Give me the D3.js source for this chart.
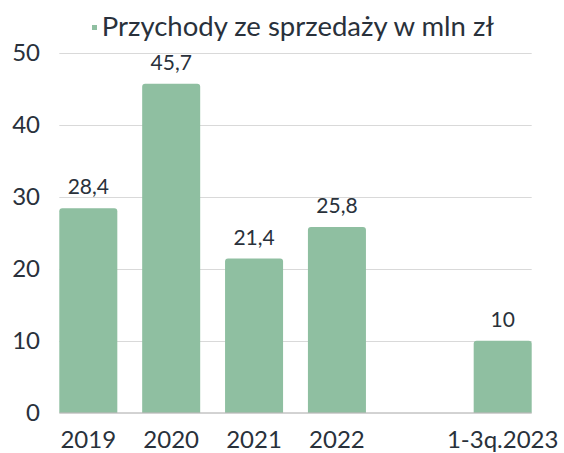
<!DOCTYPE html>
<html>
<head>
<meta charset="utf-8">
<script src="https://cdn.jsdelivr.net/npm/d3@7"></script>
<style>
  body { margin: 0; background: white; }
  svg { display: block; font-family: Lato, sans-serif; }
</style>
</head>
<body>
<div id="chart"></div>
<script>
// ----------------------------------------
// DATA
// ----------------------------------------
const categories = ["2019", "2020", "2021", "2022", "", "1-3q.2023"];
const values = [28.4, 45.7, 21.4, 25.8, null, 10];
const valueLabels = ["28,4", "45,7", "21,4", "25,8", "", "10"];
const yTicks = [0, 10, 20, 30, 40, 50];
const seriesName = "Przychody ze sprzedaży w mln zł";

// ----------------------------------------
// SETUP
// ----------------------------------------
const width = 564, height = 453;
const textColor = "#29313b";
const barColor = "#8fbfa1";

const svg = d3.select("#chart")
  .append("svg")
  .attr("width", width)
  .attr("height", height);

const x = d3.scaleBand()
  .domain(d3.range(categories.length))
  .range([59.3, 531.7])
  .paddingInner(0.3)
  .paddingOuter(0);

const y = d3.scaleLinear()
  .domain([0, 50])
  .range([412.7, 52.7]);

// gridlines
svg.append("g")
  .selectAll("line")
  .data(yTicks.filter(d => d > 0))
  .join("line")
  .attr("x1", 59.3)
  .attr("x2", 531.7)
  .attr("y1", d => Math.round(y(d)) + 0.5)
  .attr("y2", d => Math.round(y(d)) + 0.5)
  .attr("stroke", "#d9d9d9")
  .attr("stroke-width", 1);

// y tick labels
svg.append("g")
  .selectAll("text")
  .data(yTicks)
  .join("text")
  .attr("x", 40)
  .attr("y", d => y(d))
  .attr("dy", "0.35em")
  .attr("text-anchor", "end")
  .attr("fill", textColor)
  .style("font-size", "24px")
  .text(d => d);

// bars with rounded top corners
const r = 3;
const barData = values
  .map((v, i) => ({ i, v, label: valueLabels[i] }))
  .filter(d => d.v != null);

svg.append("g")
  .selectAll("path")
  .data(barData)
  .join("path")
  .attr("fill", barColor)
  .attr("d", d => {
    const x0 = x(d.i), x1 = x0 + x.bandwidth();
    const yt = y(d.v), yb = y(0);
    return `M${x0},${yb}V${yt + r}Q${x0},${yt} ${x0 + r},${yt}H${x1 - r}Q${x1},${yt} ${x1},${yt + r}V${yb}Z`;
  });

// zero axis line
svg.append("line")
  .attr("x1", 59.3)
  .attr("x2", 531.7)
  .attr("y1", 413)
  .attr("y2", 413)
  .attr("stroke", "#a6a6a6")
  .attr("stroke-width", 1);

// value labels
svg.append("g")
  .selectAll("text")
  .data(barData)
  .join("text")
  .attr("x", d => x(d.i) + x.bandwidth() / 2)
  .attr("y", d => y(d.v) - 14)
  .attr("text-anchor", "middle")
  .attr("fill", textColor)
  .style("font-size", "21px")
  .text(d => d.label);

// x labels
svg.append("g")
  .selectAll("text")
  .data(categories.map((c, i) => ({ c, i })).filter(d => d.c))
  .join("text")
  .attr("x", d => x(d.i) + x.bandwidth() / 2)
  .attr("y", 448)
  .attr("text-anchor", "middle")
  .attr("fill", textColor)
  .style("font-size", "24px")
  .text(d => d.c);

// legend / title
svg.append("rect")
  .attr("x", 92)
  .attr("y", 25)
  .attr("width", 5)
  .attr("height", 5)
  .attr("fill", barColor);

svg.append("text")
  .attr("x", 101.7)
  .attr("y", 36)
  .attr("fill", textColor)
  .style("font-size", "27.5px")
  .text(seriesName);
</script>
</body>
</html>
